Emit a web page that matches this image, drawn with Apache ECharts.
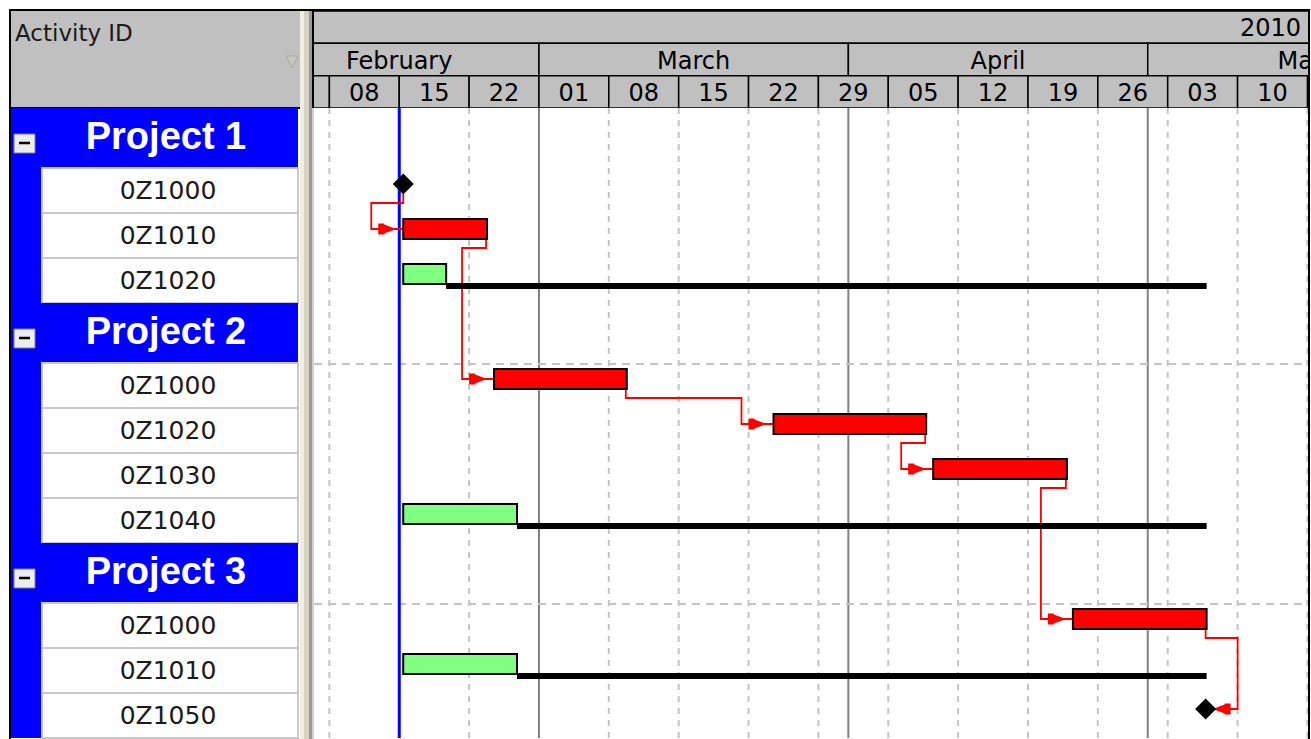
<!DOCTYPE html>
<html><head><meta charset="utf-8">
<script src="https://cdn.jsdelivr.net/npm/echarts@6/dist/echarts.min.js"></script>
<style>html,body{margin:0;padding:0;background:#fff;}#c{width:1311px;height:739px;}</style>
</head><body><div id="c"></div>
<script>
// ---------- data ----------
const viewStart = '2010-02-06 11:00';
const viewEnd   = '2010-05-17 03:48';
const todayDate = '2010-02-15 00:00';

const yearStarts = ['2010-01-01', '2011-01-01'];
const yearLabels = ['2010'];
const monthStarts = ['2010-02-01','2010-03-01','2010-04-01','2010-05-01','2010-06-01'];
const monthLabels = ['February','March','April','May'];
const weekStarts = ['2010-02-01','2010-02-08','2010-02-15','2010-02-22','2010-03-01','2010-03-08','2010-03-15','2010-03-22','2010-03-29','2010-04-05','2010-04-12','2010-04-19','2010-04-26','2010-05-03','2010-05-10','2010-05-17'];
const weekLabels = ['01','08','15','22','01','08','15','22','29','05','12','19','26','03','10'];

const rowLabels = ['Project 1','0Z1000','0Z1010','0Z1020','Project 2','0Z1000','0Z1020','0Z1030','0Z1040','Project 3','0Z1000','0Z1010','0Z1050'];
const rowKinds  = ['project','activity','activity','activity','project','activity','activity','activity','activity','project','activity','activity','activity'];

const taskRows   = [1, 2, 3, 5, 6, 7, 8, 10, 11, 12];
const taskKinds  = ['milestone','critical','normal','critical','critical','critical','normal','critical','normal','milestone'];
const taskStarts = ['2010-02-15 09:36','2010-02-15 09:36','2010-02-15 09:36','2010-02-24 12:00','2010-03-24 12:00','2010-04-09 12:00','2010-02-15 09:36','2010-04-23 12:00','2010-02-15 09:36','2010-05-06 19:12'];
const taskEnds   = ['2010-02-15 09:36','2010-02-23 19:12','2010-02-19 16:48','2010-03-09 19:12','2010-04-08 19:12','2010-04-22 21:36','2010-02-26 19:12','2010-05-06 21:36','2010-02-26 19:12','2010-05-06 19:12'];
const floatEnds  = [null, null, '2010-05-06 21:36', null, null, null, '2010-05-06 21:36', null, '2010-05-06 21:36', null];

const linkFrom  = [0, 1, 3, 4, 5, 7];
const linkTo    = [1, 3, 4, 5, 7, 9];
const linkTypes = ['FS','FS','FS','FS','FS','FF'];

// ---------- helpers ----------
function ts(s){
  const parts = s.split(' ');
  const d = parts[0].split('-').map(Number);
  let h = 0, m = 0;
  if (parts[1]) { const t = parts[1].split(':').map(Number); h = t[0]; m = t[1]; }
  return Date.UTC(d[0], d[1]-1, d[2], h, m);
}
const rowUnits = {project: 4, activity: 3};
const rowTopU = [];
let acc = 0;
rowKinds.forEach(k => { rowTopU.push(acc); acc += rowUnits[k]; });
const totalU = acc;

const X0 = ts(viewStart), X1 = ts(viewEnd);

// header cells
const headerLabels = [];
const headerData = [];
function addCells(starts, labels, row){
  labels.forEach((lb, i) => {
    headerLabels.push(lb);
    headerData.push([ts(starts[i]), ts(starts[i+1]), row, headerLabels.length-1]);
  });
}
addCells(yearStarts, yearLabels, 0);
addCells(monthStarts, monthLabels, 1);
addCells(weekStarts, weekLabels, 2);

const FONT_H = '"DejaVu Sans", sans-serif';

function renderHeader(params, api){
  const r = api.value(2);
  const p0 = api.coord([api.value(0), r]);
  const p1 = api.coord([api.value(1), r + 1]);
  const cs = params.coordSys;
  const label = headerLabels[api.value(3)];
  const tx = r === 0 ? cs.x + cs.width - 8 : (p0[0] + p1[0]) / 2;
  return {type:'group', children:[
    {type:'rect', shape:{x:p0[0], y:p0[1], width:p1[0]-p0[0], height:p1[1]-p0[1]},
     style:{fill:'#c0c0c0', stroke:'#000', lineWidth:1.5}},
    {type:'text', style:{x:tx, y:(p0[1]+p1[1])/2 + 1, text:label, fill:'#000',
     font:'24px ' + FONT_H, align: r === 0 ? 'right' : 'center', verticalAlign:'middle'}}
  ]};
}

function renderVLine(color, width, dash){
  return function(params, api){
    const cs = params.coordSys;
    const x = api.coord([api.value(0), 0])[0];
    return {type:'line', shape:{x1:x, y1:cs.y, x2:x, y2:cs.y+cs.height},
      style:{stroke:color, lineWidth:width, lineDash:dash}};
  };
}
function renderHLine(params, api){
  const cs = params.coordSys;
  const y = api.coord([X0, api.value(0)])[1];
  return {type:'line', shape:{x1:cs.x, y1:y+1, x2:cs.x+cs.width, y2:y+1},
    style:{stroke:'#c4c4c4', lineWidth:2, lineDash:[8,6]}};
}

function renderTask(params, api){
  const i = api.value(4);
  const a = api.coord([api.value(0), api.value(2)]);
  const b = api.coord([api.value(1), api.value(2)]);
  const f = api.coord([api.value(3), api.value(2)]);
  const top = a[1];
  const kind = taskKinds[i];
  const ch = [];
  if (kind === 'milestone') {
    const cx = a[0], cy = top + 16, h = 10.5;
    ch.push({type:'polygon', shape:{points:[[cx,cy-h],[cx+h,cy],[cx,cy+h],[cx-h,cy]]}, style:{fill:'#000'}});
  } else {
    if (f[0] > b[0]) ch.push({type:'rect', shape:{x:b[0], y:top+25, width:f[0]-b[0], height:6}, style:{fill:'#000'}});
    ch.push({type:'rect', shape:{x:a[0], y:top+6, width:b[0]-a[0], height:20},
      style:{fill: kind === 'critical' ? '#ff0000' : '#80ff80', stroke:'#000', lineWidth:2}});
  }
  return {type:'group', children:ch};
}

function renderLink(params, api){
  const k = api.value(4);
  const p = api.coord([api.value(0), api.value(1)]);
  const s = api.coord([api.value(2), api.value(3)]);
  const predMil = taskKinds[linkFrom[k]] === 'milestone';
  const x0 = p[0] - (predMil ? 0 : 1);
  const yb = p[1] + (predMil ? 26 : 27);
  const yd = p[1] + 35;
  const sx = s[0], sy = s[1] + 16;
  let pts, arrow;
  if (linkTypes[k] === 'FF') {
    const tx = x0 + 32, t = sx + 7;
    pts = [[x0,yb],[x0,yd],[tx,yd],[tx,sy],[t,sy]];
    arrow = [[t+18,sy-5.5],[t+12,sy-5.5],[t+12,sy-4.5],[t,sy],[t+12,sy+4.5],[t+12,sy+5.5],[t+18,sy+5.5]];
  } else {
    const tx = sx - 32, t = sx - 7;
    pts = [[x0,yb],[x0,yd],[tx,yd],[tx,sy],[sx,sy]];
    arrow = [[t-18,sy-5.5],[t-12,sy-5.5],[t-12,sy-4.5],[t,sy],[t-12,sy+4.5],[t-12,sy+5.5],[t-18,sy+5.5]];
  }
  return {type:'group', children:[
    {type:'polyline', shape:{points:pts}, style:{stroke:'#ff0000', lineWidth:1.8, fill:null}},
    {type:'polygon', shape:{points:arrow}, style:{fill:'#ff0000'}}
  ]};
}

function renderRow(params, api){
  const idx = api.value(3);
  const cs = params.coordSys;
  const p0 = api.coord([0, api.value(1)]);
  const p1 = api.coord([1, api.value(2)]);
  const top = p0[1], bot = p1[1];
  const ch = [{type:'rect', shape:{x:cs.x, y:top, width:cs.width-2, height:bot-top}, style:{fill:'#0000ff'}}];
  if (rowKinds[idx] === 'project') {
    ch.push({type:'rect', shape:{x:cs.x+3, y:top+26, width:21, height:19}, style:{fill:'#ececec', stroke:'#808080', lineWidth:1}});
    ch.push({type:'line', shape:{x1:cs.x+8, y1:top+35, x2:cs.x+19, y2:top+35}, style:{stroke:'#000', lineWidth:2.5}});
    ch.push({type:'text', style:{x:cs.x+155, y:(top+bot)/2 - 2, text:rowLabels[idx], fill:'#fff',
      font:'bold 38px "Liberation Sans", Arial, sans-serif', align:'center', verticalAlign:'middle'}});
  } else {
    ch.push({type:'rect', shape:{x:cs.x+31, y:top, width:256, height:bot-top}, style:{fill:'#fff', stroke:'#c8c8c8', lineWidth:2}});
    ch.push({type:'text', style:{x:cs.x+157, y:(top+bot)/2, text:rowLabels[idx], fill:'#1a1a1a',
      font:'25px ' + FONT_H, align:'center', verticalAlign:'middle'}});
  }
  return {type:'group', children:ch};
}

// ---------- series data ----------
const weekLineData  = weekStarts.map(d => [ts(d)]);
const monthLineData = monthStarts.map(d => [ts(d)]);
const groupLineData = rowKinds.map((k, i) => (k === 'project' && i > 0) ? [rowTopU[i] + rowUnits.project] : null).filter(Boolean);
const taskData = taskRows.map((r, i) => [ts(taskStarts[i]), ts(taskEnds[i]), rowTopU[r],
  floatEnds[i] ? ts(floatEnds[i]) : ts(taskEnds[i]), i]);
const linkData = linkFrom.map((f, k) => {
  const t = linkTo[k];
  const pEnd = taskKinds[f] === 'milestone' ? taskStarts[f] : taskEnds[f];
  return [ts(pEnd), rowTopU[taskRows[f]], ts(taskStarts[t]), rowTopU[taskRows[t]], k];
});
const rowData = rowKinds.map((k, i) => [0, rowTopU[i], rowTopU[i] + rowUnits[k], i]);

const chart = echarts.init(document.getElementById('c'), null, {renderer:'svg', width:1311, height:739});
chart.setOption({
  animation:false,
  backgroundColor:'#ffffff',
  grid:[
    {left:314, top:11, width:995, height:97},
    {left:314, top:108, width:995, height:630},
    {left:11, top:108, width:289, height:630}
  ],
  xAxis:[
    {gridIndex:0, type:'value', min:X0, max:X1, show:false},
    {gridIndex:1, type:'value', min:X0, max:X1, show:false},
    {gridIndex:2, type:'value', min:0, max:1, show:false}
  ],
  yAxis:[
    {gridIndex:0, type:'value', min:0, max:3, inverse:true, show:false},
    {gridIndex:1, type:'value', min:0, max:totalU, inverse:true, show:false},
    {gridIndex:2, type:'value', min:0, max:totalU, inverse:true, show:false}
  ],
  graphic:[
    {type:'rect', shape:{x:11, y:11, width:289, height:97}, style:{fill:'#c0c0c0'}, z:1},
    {type:'text', x:15, y:33, style:{text:'Activity ID', fill:'#1a1a1a', font:'23px ' + FONT_H, verticalAlign:'middle'}, z:2},
    {type:'polygon', shape:{points:[[286,56],[298,56],[292,68]]}, style:{fill:'#c8c8c0', stroke:'#a8a898', lineWidth:1}, z:2},
    {type:'line', shape:{x1:11, y1:108, x2:300, y2:108}, style:{stroke:'#000', lineWidth:2}, z:2},
    {type:'rect', shape:{x:300, y:11, width:4, height:728}, style:{fill:'#f0eee2'}, z:20},
    {type:'rect', shape:{x:304, y:11, width:5, height:728}, style:{fill:'#d6d2c2'}, z:20},
    {type:'rect', shape:{x:309, y:11, width:3, height:728}, style:{fill:'#9c9a90'}, z:20},
    {type:'line', shape:{x1:313, y1:11, x2:313, y2:108}, style:{stroke:'#000', lineWidth:2}, z:20},
    {type:'line', shape:{x1:313, y1:108, x2:313, y2:739}, style:{stroke:'#a0a0a0', lineWidth:1}, z:20},
    {type:'rect', shape:{x:10, y:10, width:1299, height:740}, style:{fill:null, stroke:'#000', lineWidth:2}, z:30}
  ],
  series:[
    {type:'custom', name:'header', xAxisIndex:0, yAxisIndex:0, clip:true, renderItem:renderHeader, data:headerData, encode:{x:[0,1], y:2}},
    {type:'custom', name:'weekLines', xAxisIndex:1, yAxisIndex:1, clip:true, renderItem:renderVLine('#c4c4c4', 2, [6,6]), data:weekLineData, encode:{x:0}},
    {type:'custom', name:'monthLines', xAxisIndex:1, yAxisIndex:1, clip:true, renderItem:renderVLine('#808080', 2, null), data:monthLineData, encode:{x:0}},
    {type:'custom', name:'groupLines', xAxisIndex:1, yAxisIndex:1, clip:true, renderItem:renderHLine, data:groupLineData, encode:{y:0}},
    {type:'custom', name:'today', xAxisIndex:1, yAxisIndex:1, clip:true, renderItem:renderVLine('#0000ff', 3, null), data:[[ts(todayDate)]], encode:{x:0}},
    {type:'custom', name:'links', xAxisIndex:1, yAxisIndex:1, clip:true, renderItem:renderLink, data:linkData, encode:{x:[0,2], y:[1,3]}},
    {type:'custom', name:'tasks', xAxisIndex:1, yAxisIndex:1, clip:true, renderItem:renderTask, data:taskData, encode:{x:[0,1,3], y:2}},
    {type:'custom', name:'table', xAxisIndex:2, yAxisIndex:2, renderItem:renderRow, data:rowData, encode:{x:0, y:[1,2]}}
  ]
});
</script>
</body></html>
